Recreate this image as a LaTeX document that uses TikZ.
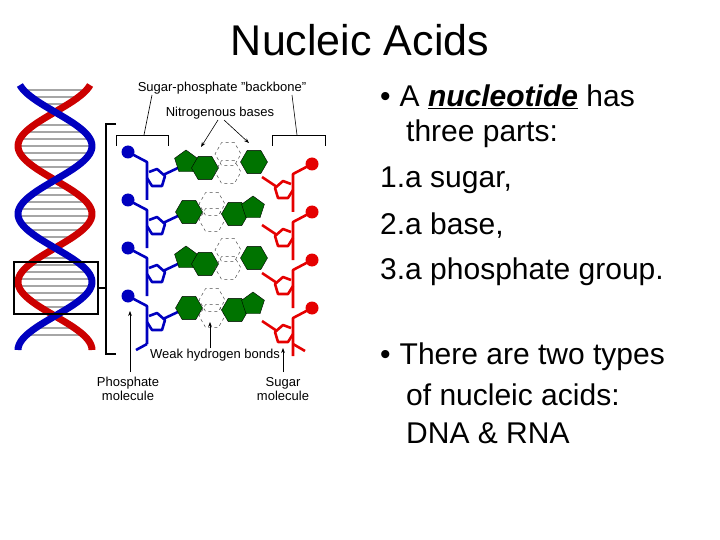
\documentclass[tikz,border=0pt]{standalone}
\usepackage{fontspec}
\setmainfont{Liberation Sans}
\usetikzlibrary{shapes.geometric,arrows.meta}
\begin{document}
\begin{tikzpicture}[x=1bp,y=-1bp,
 lbl/.style={font=\fontsize{13bp}{14bp}\selectfont,inner sep=0pt,align=center},
 txt/.style={font=\fontsize{30bp}{34bp}\selectfont,inner sep=0pt,anchor=west},
 gb/.style={fill=green!45!black,draw=black,line width=0.4pt},
 hb/.style={draw=black!70,dashed,line width=0.5pt},
 arr/.style={-{Stealth[length=5bp]},line width=0.6pt},
 bb/.style={line width=2.6pt,line join=round}]
\useasboundingbox (0,0) rectangle (720,540);
\node (title) at (360,40) {\fontsize{43bp}{46bp}\selectfont Nucleic Acids};
% helix
\foreach \yy in {90,97,...,341}{
  \pgfmathsetmacro{\ss}{sin((\yy-112)/68*180)}
  \pgfmathsetmacro{\aa}{abs(\ss)}
  \ifdim\aa pt>0.35pt
   \draw[gray!70,line width=2.2pt] ({55-37*\ss},\yy) -- ({55+37*\ss},\yy);
  \fi}
\draw[red!80!black,line width=7pt] plot[domain=85:350,samples=120,smooth,variable=\t] ({55-37*sin((\t-112)/68*180)},\t);
\draw[blue!75!black,line width=7pt] plot[domain=85:350,samples=120,smooth,variable=\t] ({55+37*sin((\t-112)/68*180)},\t);
\draw[line width=1.6pt] (14,262) rectangle (98,314);
\draw[line width=1.4pt] (116,124) -- (106,124) -- (106,354) -- (116,354);
\draw[line width=1.4pt] (98,288) -- (106,288);
% backbones
\foreach \k in {0,1,2,3}{
  \pgfmathsetmacro{\o}{48*\k}
  \begin{scope}[yshift=-\o bp]
  \draw[bb,blue!75!black] (128,152) -- (147,162) -- (147,200);
  \draw[bb,blue!75!black] (147,178) -- (152,186) -- (162,186) -- (165,176) -- (157,169) -- (149,172);
  \draw[bb,blue!75!black] (163,175) -- (180,167);
  \fill[blue!75!black] (128,152) circle (6.5);
  \draw[bb,red!90!black] (312,164) -- (293,174) -- (293,212);
  \draw[bb,red!90!black] (293,190) -- (288,198) -- (278,198) -- (275,188) -- (283,181) -- (291,184);
  \draw[bb,red!90!black] (277,187) -- (262,177);
  \fill[red!90!black] (312,164) circle (6.5);
  \end{scope}}
\draw[bb,blue!75!black] (147,344) -- (136,350);
\draw[bb,red!90!black] (293,344) -- (305,351);
% bases rows 1 and 3
\foreach \o in {0,96}{
 \begin{scope}[yshift=-\o bp]
  \node[gb,regular polygon,regular polygon sides=5,minimum size=24bp,inner sep=0pt] (pa\o) at (186,162) {};
  \node[gb,regular polygon,regular polygon sides=6,minimum size=27bp,inner sep=0pt] (ha\o) at (205,168) {};
  \node[hb,regular polygon,regular polygon sides=6,minimum size=26bp,inner sep=0pt] (da\o) at (228,154) {};
  \node[hb,regular polygon,regular polygon sides=6,minimum size=26bp,inner sep=0pt] (db\o) at (228,172) {};
  \node[gb,regular polygon,regular polygon sides=6,minimum size=27bp,inner sep=0pt] (hc\o) at (254,162) {};
 \end{scope}}
% rows 2 and 4
\foreach \o in {48,144}{
 \begin{scope}[yshift=-\o bp]
  \node[gb,regular polygon,regular polygon sides=6,minimum size=27bp,inner sep=0pt] (hd\o) at (189,164) {};
  \node[hb,regular polygon,regular polygon sides=6,minimum size=26bp,inner sep=0pt] (de\o) at (212,156) {};
  \node[hb,regular polygon,regular polygon sides=6,minimum size=26bp,inner sep=0pt] (df\o) at (212,172) {};
  \node[gb,regular polygon,regular polygon sides=6,minimum size=27bp,inner sep=0pt] (he\o) at (235,166) {};
  \node[gb,regular polygon,regular polygon sides=5,minimum size=24bp,inner sep=0pt] (pb\o) at (253,160) {};
 \end{scope}}
% labels
\node[lbl] (sp) at (222,88) {Sugar-phosphate "backbone"};
\node[lbl] (nb) at (220,113) {Nitrogenous bases};
\node[lbl] (wh) at (215,355) {Weak hydrogen bonds};
\node[lbl] (pm) at (128,389) {Phosphate\\molecule};
\node[lbl] (sm) at (283,389) {Sugar\\molecule};
\coordinate (bl1) at (116,135); \coordinate (bl2) at (168,135);
\coordinate (br1) at (272,135); \coordinate (br2) at (325,135);
\draw[line width=0.7pt] (116,146) -- (bl1) -- (bl2) -- (168,146);
\draw[line width=0.7pt] (272,146) -- (br1) -- (br2) -- (325,146);
\coordinate (blm) at (144,135); \coordinate (brm) at (297,135);
\draw[line width=0.6pt] (152,95) -- (blm);
\draw[line width=0.6pt] (292,95) -- (brm);
\coordinate (na) at (201,147); \coordinate (nb2) at (249,143);
\draw[arr] (218,120) -- (na);
\draw[arr] (224,120) -- (nb2);
\coordinate (wa) at (210,322); \draw[arr] (210,348) -- (wa);
\coordinate (pa) at (130,311); \draw[arr] (130,372) -- (pa);
\coordinate (sa) at (283,348); \draw[arr] (283,372) -- (sa);
% right text
\node[txt] (b1) at (380,97) {•\hspace{9bp}A \textbf{\textit{\underline{nucleotide}}} has};
\node[txt] (b1b) at (406,134) {three parts:};
\node[txt] (l1) at (380,180) {1.a sugar,};
\node[txt] (l2) at (380,226) {2.a base,};
\node[txt] (l3) at (380,272) {3.a phosphate group.};
\node[txt] (b2) at (380,357) {•\hspace{9bp}There are two types};
\node[txt] (b2b) at (406,395) {of nucleic acids:};
\node[txt] (b2c) at (406,433) {DNA \& RNA};
\end{tikzpicture}
\end{document}
